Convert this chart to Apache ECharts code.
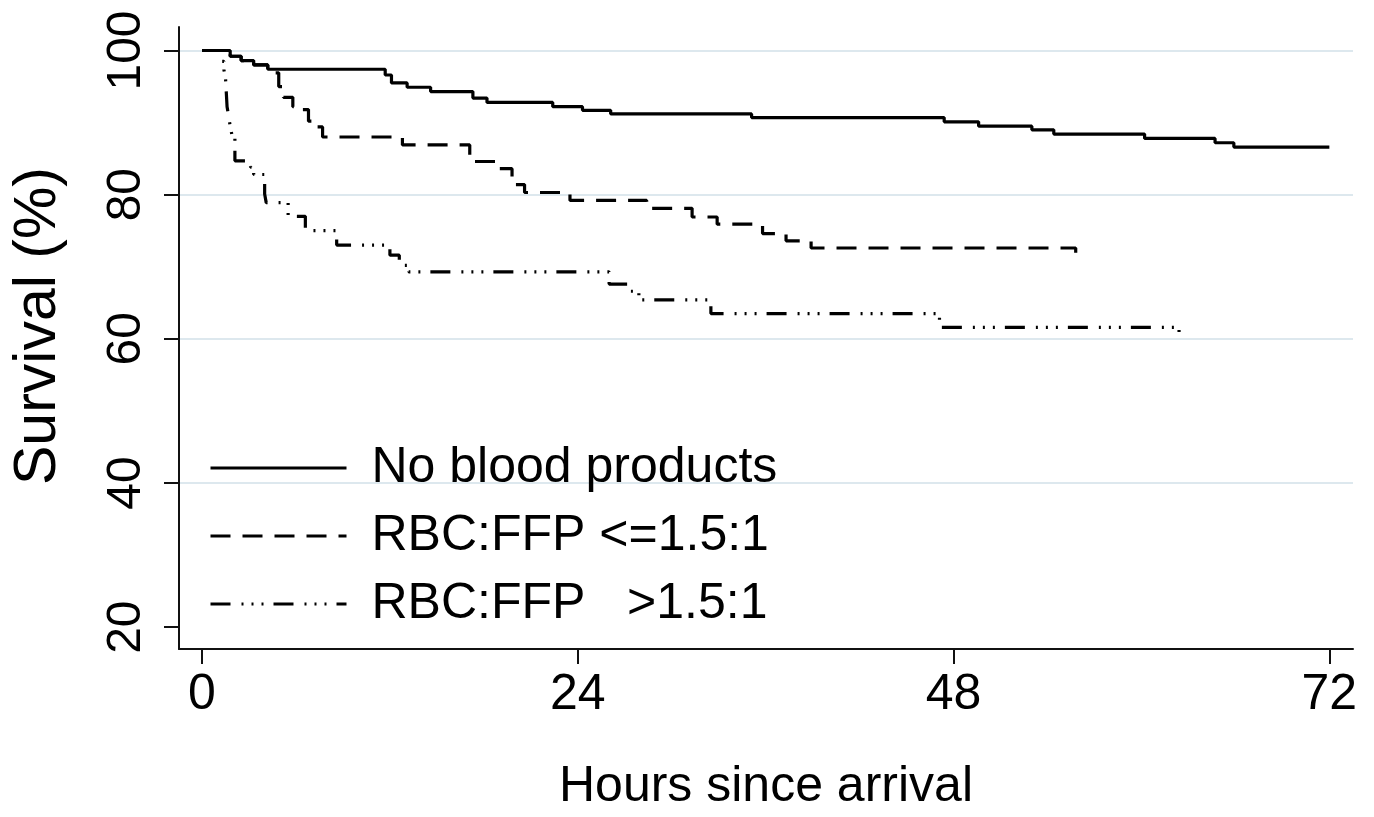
<!DOCTYPE html>
<html>
<head>
<meta charset="utf-8">
<script src="https://cdn.jsdelivr.net/npm/echarts@6/dist/echarts.min.js"></script>
<style>
html,body{margin:0;padding:0;background:#fff;}
#chart{width:1374px;height:817px;}
</style>
</head>
<body>
<div id="chart"></div>
<script>
// ---- data (hours since arrival, survival %) ----
const seriesNames = ['No blood products', 'RBC:FFP <=1.5:1', 'RBC:FFP   >1.5:1'];
const xTicks = [0, 24, 48, 72];
const yTicks = [20, 40, 60, 80, 100];

const noBlood = [
  [0,100],[1.8,99.2],[2.5,98.6],[3.3,98.0],[4.2,97.4],[11.7,96.6],[12.1,95.5],
  [13.1,94.9],[14.6,94.3],[17.3,93.4],[18.2,92.8],[22.4,92.2],[24.3,91.7],
  [26.1,91.2],[35.1,90.7],[47.4,90.1],[49.6,89.5],[53.0,89.0],[54.4,88.4],
  [60.2,87.8],[64.7,87.2],[65.9,86.6],[72,86.6]
];
const lowRatio = [
  [0,100],[1.8,99.2],[2.5,98.6],[3.3,98.0],[4.2,97.4],[4.6,96.9],[4.9,95.0],
  [5.2,93.5],[5.8,92.2],[6.4,91.8],[6.8,90.2],[7.3,89.4],[7.7,88.0],[12.8,86.9],
  [17.1,84.6],[19.0,83.6],[19.8,81.4],[20.6,80.3],[23.5,79.2],[28.4,78.1],
  [31.3,76.9],[32.9,75.9],[35.8,74.6],[37.3,73.6],[38.9,72.6],[55.8,71.5],[56.0,71.5]
];
const highRatio = [
  [0,100],[1.2,98.5],[1.4,97.3],[1.5,96.2],[1.6,92.2],[1.7,90.9],[1.8,89.5],
  [1.9,88.4],[2.1,84.7],[3.1,83.8],[3.3,82.8],[4.0,80.1],[4.1,78.9],[5.5,77.0],
  [6.6,75.0],[8.6,73.0],[12.0,71.6],[12.6,70.2],[13.2,69.3],[26.0,67.6],
  [27.2,66.6],[27.9,65.4],[32.5,63.5],[47.1,61.6],[62.4,60.0],[62.5,60.0]
];

const chart = echarts.init(document.getElementById('chart'));
const FONT = '"Liberation Sans", Arial, Helvetica, sans-serif';
const lineBase = { color: '#000', width: 3.2 };

chart.setOption({
  animation: false,
  backgroundColor: '#fff',
  textStyle: { fontFamily: FONT, color: '#000' },
  grid: { left: 179, right: 21, top: 27, bottom: 163 },
  xAxis: {
    type: 'value',
    min: -1.47, max: 73.51,
    name: 'Hours since arrival',
    nameLocation: 'middle',
    nameGap: 113,
    nameTextStyle: { fontSize: 50, color: '#000', fontFamily: FONT },
    axisLine: { show: true, onZero: false, lineStyle: { color: '#111', width: 2 } },
    axisTick: { show: true, customValues: xTicks, length: 15, lineStyle: { color: '#111', width: 2 } },
    axisLabel: { customValues: xTicks, fontSize: 50, margin: 21, color: '#000', fontFamily: FONT },
    splitLine: { show: false }
  },
  yAxis: {
    type: 'value',
    min: 16.97, max: 103.26,
    axisLine: { show: true, onZero: false, lineStyle: { color: '#111', width: 2 } },
    axisTick: { show: true, customValues: yTicks, length: 15, lineStyle: { color: '#111', width: 2 } },
    axisLabel: { customValues: yTicks, rotate: 90, fontSize: 48, margin: 28, color: '#000', fontFamily: FONT },
    splitLine: { show: true, lineStyle: { color: ['rgba(0,0,0,0)', '#dde8ee', '#dde8ee', '#dde8ee', '#dde8ee'], width: 2 } }
  },
  graphic: [{
    type: 'text',
    x: 39, y: 326,
    rotation: Math.PI / 2,
    style: {
      text: 'Survival (%)',
      font: '59px ' + FONT,
      fill: '#000',
      textAlign: 'center',
      textVerticalAlign: 'middle'
    }
  }],
  legend: {
    orient: 'vertical',
    left: 209, top: 443,
    padding: 0,
    itemWidth: 136, itemHeight: 50, itemGap: 18,
    itemStyle: { opacity: 0, color: 'rgba(0,0,0,0)', borderWidth: 0 },
    lineStyle: { width: 3 },
    textStyle: { fontSize: 50, lineHeight: 50, color: '#000', fontFamily: FONT, padding: [0, 0, 0, 20] },
    data: seriesNames
  },
  series: [
    { name: seriesNames[0], type: 'line', step: 'end', symbol: 'none', data: noBlood,
      lineStyle: Object.assign({}, lineBase, { type: 'solid' }), itemStyle: { color: '#000' } },
    { name: seriesNames[1], type: 'line', step: 'end', symbol: 'none', data: lowRatio,
      lineStyle: Object.assign({}, lineBase, { type: [20, 12] }), itemStyle: { color: '#000' } },
    { name: seriesNames[2], type: 'line', step: 'end', symbol: 'none', data: highRatio,
      lineStyle: Object.assign({}, lineBase, { type: [20, 11, 2, 8, 2, 8, 2, 10] }), itemStyle: { color: '#000' } }
  ]
});
</script>
</body>
</html>
